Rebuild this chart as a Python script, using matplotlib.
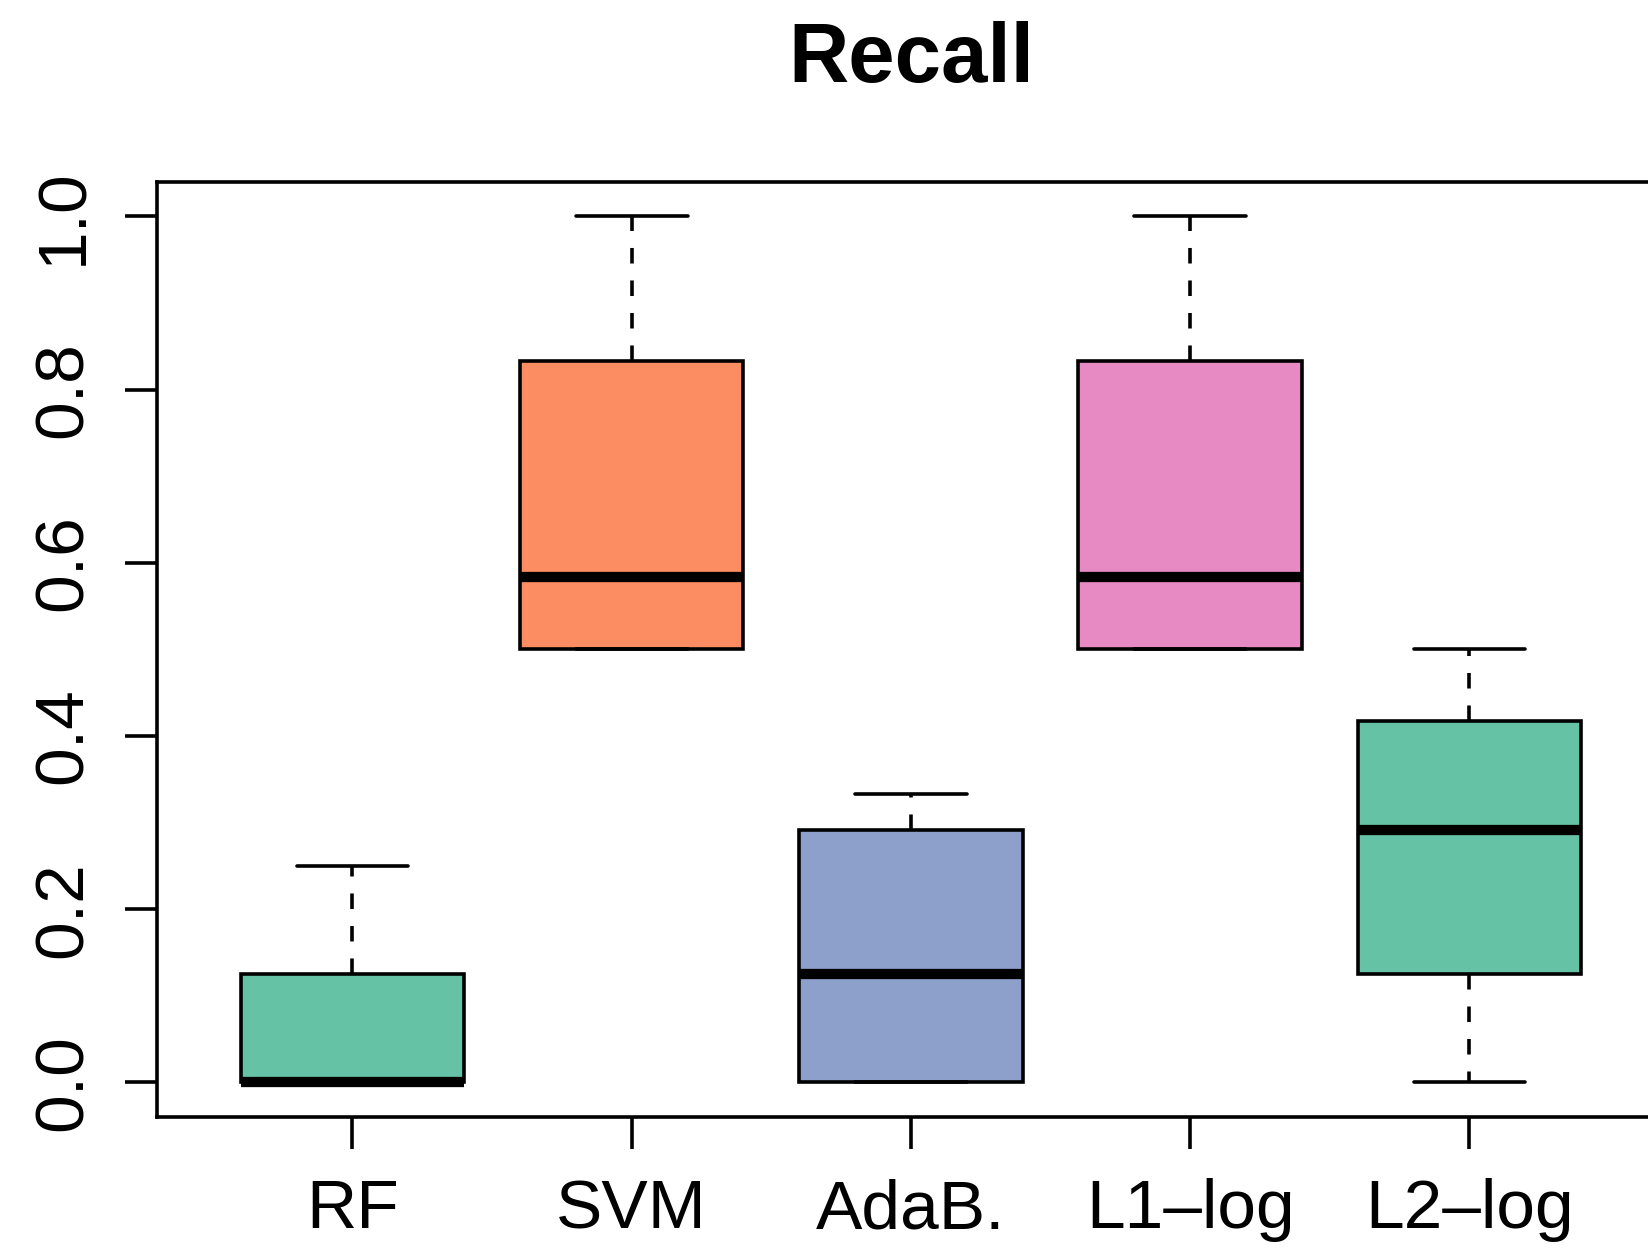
import matplotlib.pyplot as plt

plt.rcParams['font.family'] = ['Liberation Sans', 'DejaVu Sans']

# Recall summary per classifier
labels = ["RF", "SVM", "AdaB.", "L1\u2013log", "L2\u2013log"]
whis_lo = [0.0, 0.5, 0.0, 0.5, 0.0]
q1 = [0.0, 0.5, 0.0, 0.5, 0.125]
medians = [0.0, 0.5833, 0.125, 0.5833, 0.2917]
q3 = [0.125, 0.8333, 0.2917, 0.8333, 0.4167]
whis_hi = [0.25, 1.0, 0.3333, 1.0, 0.5]
colors = ["#66C2A5", "#FC8D62", "#8DA0CB", "#E78AC3", "#66C2A5"]

stats = []
for i in range(len(labels)):
    stats.append({"label": labels[i], "whislo": whis_lo[i], "q1": q1[i],
                  "med": medians[i], "q3": q3[i], "whishi": whis_hi[i],
                  "fliers": []})

fig = plt.figure(figsize=(16.49, 12.48), dpi=100)
ax = fig.add_axes([0.0952, 0.105, 0.9144, 0.7494])

bp = ax.bxp(stats, positions=range(1, 6), widths=0.8, patch_artist=True,
            showfliers=False,
            boxprops=dict(linewidth=2.6, edgecolor="black"),
            medianprops=dict(linewidth=7.4, color="black", solid_capstyle="butt"),
            whiskerprops=dict(linewidth=2.6, color="black", linestyle=(0, (4.3, 4.7))),
            capprops=dict(linewidth=2.6, color="black", solid_capstyle="round"),
            capwidths=0.4)
for patch, c in zip(bp["boxes"], colors):
    patch.set_facecolor(c)

ax.set_xlim(0.3, 5.7)
ax.set_ylim(-0.04, 1.04)
ax.set_yticks([0.0, 0.2, 0.4, 0.6, 0.8, 1.0])
ax.set_yticklabels(["0.0", "0.2", "0.4", "0.6", "0.8", "1.0"], rotation=90, va="center")
ax.set_xticks(range(1, 6))
ax.set_xticklabels(labels)

ax.tick_params(axis="both", labelsize=50, length=23, width=2.6)
ax.tick_params(axis="y", pad=21)
ax.tick_params(axis="x", pad=21)
for s in ax.spines.values():
    s.set_linewidth(2.6)

fig.text(0.5524, 1 - 82 / 1248, "Recall", fontsize=60, fontweight="bold",
         ha="center", va="baseline")

fig.savefig("out.png", dpi=100)
